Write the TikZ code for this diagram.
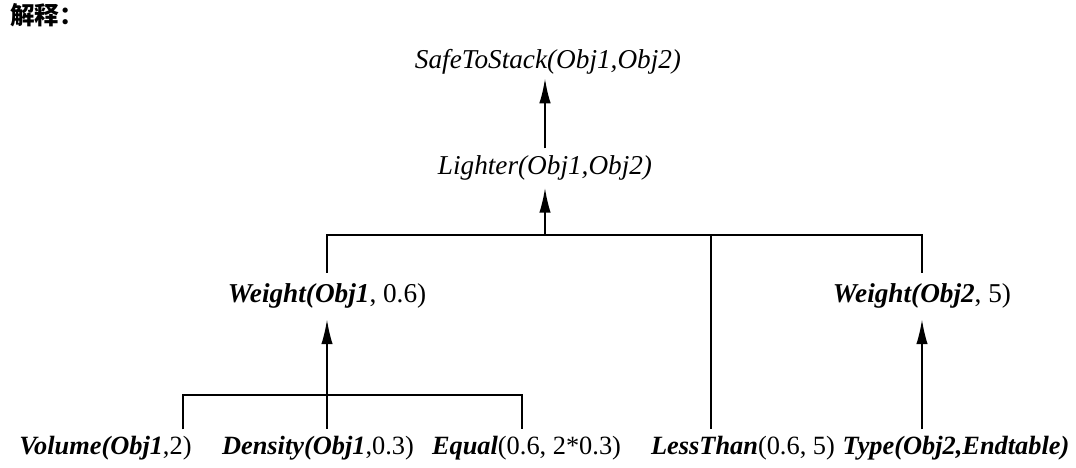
\documentclass[tikz,border=0pt]{standalone}
\usepackage{fontspec}
\setmainfont{Liberation Serif}
\newfontfamily\cjk{Noto Sans CJK SC}
\usepackage{tikz}
\usetikzlibrary{positioning,arrows.meta}
\newcommand{\pname}[1]{\textbf{\textit{#1}}}

\begin{document}
\begin{tikzpicture}[x=1cm,y=1cm,>={Latex[length=5mm,width=2.3mm]},font=\fontsize{15.5}{18}\selectfont,
  term/.style={inner xsep=2pt,inner ysep=4pt},
  leaf/.style={term,anchor=base,font=\fontsize{15}{18}\selectfont},
  link/.style={line width=1.1pt}]
\useasboundingbox (0,0) rectangle (21.52,9.36);
\node[anchor=west,inner sep=0pt,font=\fontsize{14}{16}\selectfont\cjk\bfseries] (head) at (0.2,9.06) {解释：};
% goal and its parent
\node[term,inner ysep=2pt] (safe) at (10.96,8.12) {\textit{SafeToStack(Obj1,Obj2)}};
\node[term] (lighter) at (10.9,6.0) {\textit{Lighter(Obj1,Obj2)}};
% middle level
\node[term,inner ysep=6pt] (weightA) at (6.54,3.44) {\pname{Weight(Obj1}, 0.6)};
\node[term,inner ysep=6pt] (weightB) at (18.44,3.44) {\pname{Weight(Obj2}, 5)};
% leaves
\node[leaf] (volume) at (2.11,0.26) {\pname{Volume(Obj1},2)};
\node[leaf] (density) at (6.36,0.26) {\pname{Density(Obj1},0.3)};
\node[leaf] (equal) at (10.53,0.26) {\pname{Equal}(0.6, 2*0.3)};
\node[leaf] (less) at (14.86,0.26) {\pname{LessThan}(0.6, 5)};
\node[leaf] (type) at (19.12,0.26) {\pname{Type(Obj2,Endtable)}};
\coordinate (top) at (10.9,4.66);
\coordinate (low) at (6.54,1.46);
\coordinate (lowL) at (3.66,1.46);
\coordinate (lowR) at (10.44,1.46);
\coordinate (dropL) at (14.22,4.66);
% connectors
\draw[->,link] (lighter.north) -- (lighter.north |- safe.south);
\draw[->,link] (top) -- (lighter);
\draw[link] (weightA) -- (weightA |- top) -- (weightB |- top) -- (weightB);
\draw[link] (dropL) -- (dropL |- less.north);
\draw[->,link] (low) -- (weightA);
\draw[link] (lowL |- volume.north) -- (lowL) -- (lowR) -- (lowR |- equal.north);
\draw[link] (low) -- (low |- density.north);
\draw[->,link] (weightB |- type.north) -- (weightB);
\end{tikzpicture}
\end{document}
